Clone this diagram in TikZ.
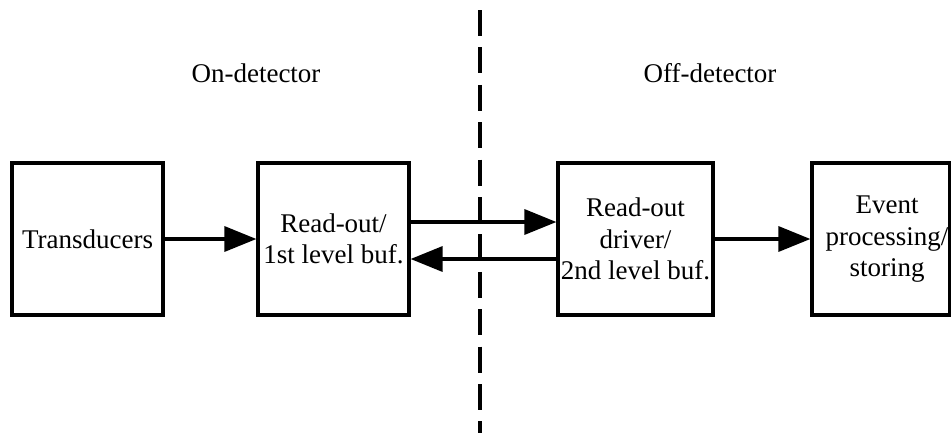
\documentclass[tikz,border=0pt]{standalone}
\usepackage{fontspec}
\setmainfont{Liberation Serif}
\usetikzlibrary{arrows.meta}
\tikzset{
  blk/.style={draw=black, line width=3.2pt, minimum height=152pt, inner sep=0pt, align=center, font=\fontsize{27}{31.5}\selectfont},
  lbl/.style={anchor=base, inner sep=0pt, font=\fontsize{27}{31.5}\selectfont},
  conn/.style={line width=3.4pt, -{Triangle[length=32pt,width=25pt]}},
  divider/.style={line width=3.4pt, dash pattern=on 26pt off 11.4pt}
}
\begin{document}
\begin{tikzpicture}[x=1pt,y=-1pt]
\useasboundingbox (0,0) rectangle (951,432);
\node[blk, minimum width=151pt] (trans) at (87.5,239) {Transducers};
\node[blk, minimum width=151pt] (ro) at (333.5,239) {Read-out/\\1st level buf.};
\node[blk, minimum width=155pt] (drv) at (635.5,239) {Read-out\\driver/\\2nd level buf.};
\node[blk, minimum width=138pt] (evt) at (881,239) {};
\node[lbl, anchor=center] (evttext) at (887,239) {\begin{tabular}{@{}c@{}}Event\\processing/\\storing\end{tabular}};
\node[lbl] (on) at (256,82) {On-detector};
\node[lbl] (off) at (710,82) {Off-detector};
\coordinate (dtop) at (480,10);
\coordinate (dbot) at (480,440);
\draw[divider] (dtop) -- (dbot);
\draw[conn] (trans.east) -- (ro.west);
\draw[conn] ([yshift=17pt]ro.east) -- ([yshift=17pt]drv.west);
\draw[conn] ([yshift=-20pt]drv.west) -- ([yshift=-20pt]ro.east);
\draw[conn] (drv.east) -- (evt.west);
\end{tikzpicture}
\end{document}
